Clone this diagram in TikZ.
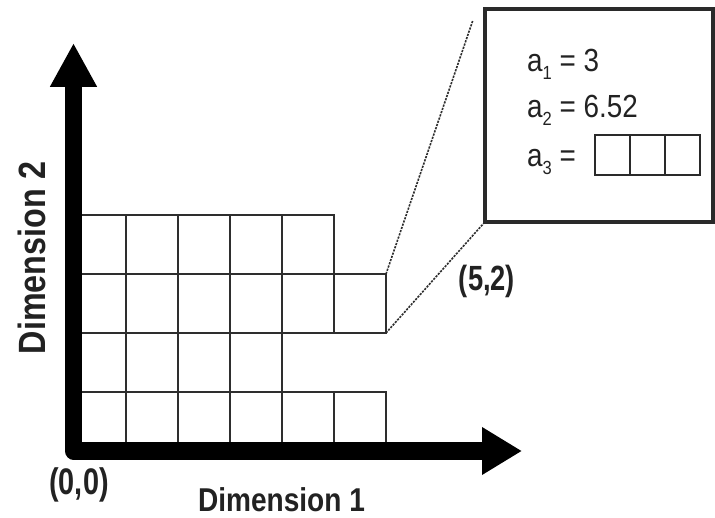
\documentclass[tikz,border=0pt]{standalone}
\usepackage{fontspec}
\setmainfont{Liberation Sans}
\newfontfamily\lblfont[FakeStretch=0.85]{Liberation Sans}
\newfontfamily\ptfont[FakeStretch=0.78]{Liberation Sans}
\newfontfamily\boxfont[FakeStretch=0.87]{Liberation Sans}
\usetikzlibrary{arrows.meta}
\definecolor{gridc}{HTML}{2E2E2E}
\definecolor{textc}{HTML}{222222}
\definecolor{boxc}{HTML}{2A2A2A}
\newcommand\subidx[1]{\raisebox{-8pt}{\fontsize{19}{19}\selectfont #1}}
\begin{document}
\begin{tikzpicture}[x=1pt,y=-1pt,
  cell/.style={draw=gridc, line width=2pt, minimum width=52pt, minimum height=59pt, inner sep=0pt, outer sep=0pt},
  axis/.style={draw=black, line width=17pt, line join=round,
    arrows={Triangle[length=44pt,width=44pt]-Triangle[length=40pt,width=45pt]}},
  infobox/.style={draw=boxc, line width=3.2pt, fill=white, minimum width=228pt, minimum height=213pt, inner sep=0pt},
  slot/.style={draw=boxc, line width=2pt, minimum width=35pt, minimum height=40pt, inner sep=0pt},
  boxtxt/.style={text=textc, font=\boxfont\fontsize{32}{32}\selectfont, inner sep=0pt, anchor=base west},
  lbl/.style={text=textc, inner sep=0pt},
  zoomline/.style={draw=gridc, line width=1.6pt, dash pattern=on 2.2pt off 1.2pt}
]
\useasboundingbox (0,0) rectangle (715,518);
\fill[white] (0,0) rectangle (715,518);

% grid cells
\foreach \r/\n in {0/5,1/3,2/5,3/4}
  \foreach \c in {0,...,\n}
    \node[cell] (c\c-\r) at ({100+52*\c},{421.5-59*\r}) {};

% axes
\coordinate (ytip) at (73.5,43);
\coordinate (origin) at (73.5,451);
\coordinate (xtip) at (522,451);
\draw[axis] (ytip) -- (origin) -- (xtip);

% info box
\node[infobox] (box) at (599,115.5) {};
\node[boxtxt] (t1) at (527,72) {a\subidx{1} = 3};
\node[boxtxt] (t2) at (527,118) {a\subidx{2} = 6.52};
\node[boxtxt] (t3) at (527,167) {a\subidx{3} =};
\node[slot] (s1) at (612.5,155) {};
\node[slot] (s2) at (647.5,155) {};
\node[slot] (s3) at (682.5,155) {};

% zoom lines
\coordinate (zt) at (473,20);
\draw[zoomline] (c5-2.north east) -- (zt);
\draw[zoomline] (c5-2.south east) -- (box.south west);

% labels
\node[lbl, font=\ptfont\bfseries\fontsize{35}{35}\selectfont] (p52) at (487,281) {(5,2)};
\node[lbl, font=\ptfont\bfseries\fontsize{37}{37}\selectfont] (p00) at (79,485) {(0,0)};
\node[lbl, font=\lblfont\bfseries\fontsize{33}{33}\selectfont, anchor=base] (d1) at (281.5,511) {Dimension 1};
\node[lbl, font=\lblfont\bfseries\fontsize{38}{38}\selectfont, anchor=base, rotate=90] (d2) at (45,258) {Dimension 2};
\end{tikzpicture}
\end{document}
